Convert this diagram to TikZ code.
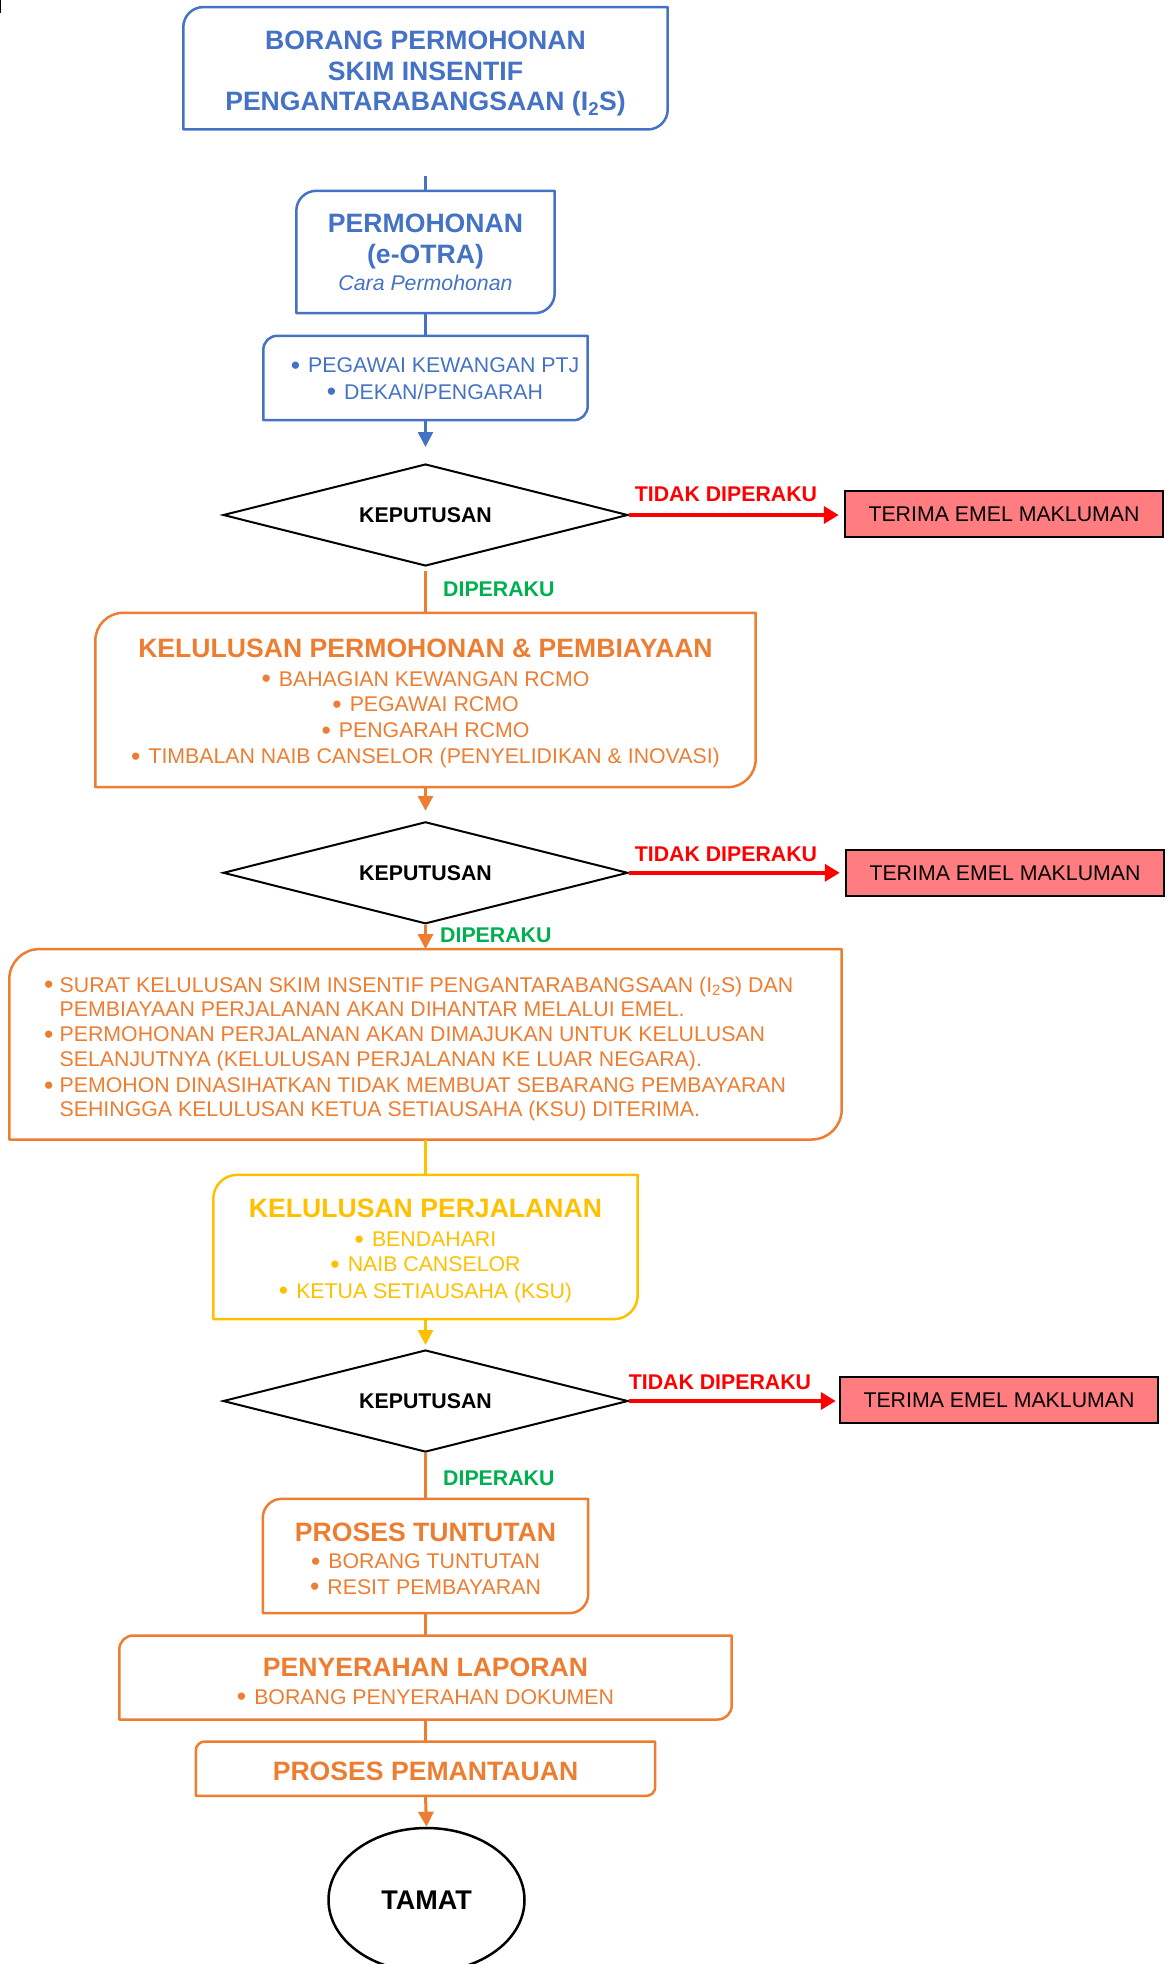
\documentclass[tikz,border=0pt]{standalone}
\usepackage{fontspec}
\usepackage{graphicx}
\setmainfont{Liberation Sans}
\usetikzlibrary{arrows.meta,shapes.geometric}
\definecolor{cblue}{HTML}{4472C4}
\definecolor{corange}{HTML}{ED7D31}
\definecolor{cyellow}{HTML}{FFC000}
\definecolor{cgreen}{HTML}{00B050}
\definecolor{cred}{HTML}{FF0000}
\definecolor{cpink}{HTML}{FF7C80}
\newcommand\bul{\raisebox{-1.9pt}{\scalebox{1.25}{\textbullet}}}
\newcommand\dboxline[3]{%
  \draw[#2, line width=2.5pt, line join=round] (#1.south west) -- ([yshift=-#3]#1.north west)
    arc[start angle=180, end angle=90, radius=#3] -- (#1.north east) -- ([yshift=#3]#1.south east)
    arc[start angle=0, end angle=-90, radius=#3] -- cycle;}
\begin{document}
\begin{tikzpicture}[x=1pt,y=1pt,
  boxn/.style={draw=none, inner sep=0pt},
  ttl/.style={anchor=base, inner sep=0pt, font=\fontsize{26.6}{30}\selectfont\bfseries},
  itm/.style={anchor=base, inner sep=0pt, font=\fontsize{21.3}{25}\selectfont},
  lbl/.style={anchor=base, inner sep=0pt, font=\fontsize{21.3}{25}\selectfont\bfseries},
  decbox/.style={diamond, draw=black, line width=2pt, aspect=4, inner sep=0pt,
    minimum width=405pt, minimum height=102pt, font=\fontsize{21.3}{25}\selectfont\bfseries},
  notebox/.style={draw=black, fill=cpink, line width=2.5pt, inner sep=0pt,
    minimum width=318pt, minimum height=46pt, font=\fontsize{21.3}{25}\selectfont},
  bline/.style={cblue, line width=2.5pt},
  oline/.style={corange, line width=3pt},
  yline/.style={cyellow, line width=3pt},
  rline/.style={cred, line width=4pt},
  arr/.style={-{Triangle[length=15pt,width=15pt]}},
  rarr/.style={-{Triangle[length=15pt,width=17pt]}},
]
\useasboundingbox (0,0) rectangle (1171,-1964);
\draw[line width=1.5pt] (0.7,0) -- (0.7,-13);

% ---- top box
\node[boxn, minimum width=484pt, minimum height=122pt] (top) at (425.5,-68.3) {};
\node[ttl, cblue] (topt1) at (425.5,-50) {BORANG PERMOHONAN};
\node[ttl, cblue] (topt2) at (425.5,-80.5) {SKIM INSENTIF};
\node[ttl, cblue] (topt3) at (425.5,-111) {PENGANTARABANGSAAN (I\textsubscript{2}S)};
\dboxline{top}{cblue}{20pt}

\coordinate (c0) at (425.5,-176);

% ---- permohonan
\node[boxn, minimum width=258pt, minimum height=122pt] (perm) at (425.5,-252) {};
\node[ttl, cblue] (perm1) at (425.5,-232.7) {PERMOHONAN};
\node[ttl, cblue] (perm2) at (425.5,-263) {(e-OTRA)};
\node[itm, cblue, font=\fontsize{21.3}{25}\selectfont\itshape] (perm3) at (425.5,-290) {Cara Permohonan};
\dboxline{perm}{cblue}{20pt}

% ---- ptj
\node[boxn, minimum width=324pt, minimum height=84pt] (ptj) at (425.5,-378) {};
\node[itm, cblue] (ptj1) at (435,-372.7) {\bul\hspace{8pt}PEGAWAI KEWANGAN PTJ};
\node[itm, cblue] (ptj2) at (435,-399) {\bul\hspace{8pt}DEKAN/PENGARAH};
\dboxline{ptj}{cblue}{14pt}

% ---- decision 1
\node[decbox] (d1) at (425.5,-515) {KEPUTUSAN};
\node[notebox] (t1) at (1004,-514) {TERIMA EMEL MAKLUMAN};
\node[lbl, cred] (n1) at (726,-501.7) {TIDAK DIPERAKU};
\node[lbl, cgreen, anchor=base west] (y1) at (443,-596) {DIPERAKU};

% ---- kelulusan permohonan
\node[boxn, minimum width=660pt, minimum height=174pt] (k1) at (425.5,-700) {};
\node[ttl, corange] (k1t) at (425.5,-657) {KELULUSAN PERMOHONAN \& PEMBIAYAAN};
\node[itm, corange] (k1a) at (425.5,-686) {\bul\hspace{8pt}BAHAGIAN KEWANGAN RCMO};
\node[itm, corange] (k1b) at (425.5,-711.7) {\bul\hspace{8pt}PEGAWAI RCMO};
\node[itm, corange] (k1c) at (425.5,-737.7) {\bul\hspace{8pt}PENGARAH RCMO};
\node[itm, corange] (k1d) at (425.5,-763.3) {\bul\hspace{8pt}TIMBALAN NAIB CANSELOR (PENYELIDIKAN \& INOVASI)};
\dboxline{k1}{corange}{28pt}

% ---- decision 2
\node[decbox] (d2) at (425.5,-872.8) {KEPUTUSAN};
\node[notebox] (t2) at (1005,-873) {TERIMA EMEL MAKLUMAN};
\node[lbl, cred] (n2) at (726,-861) {TIDAK DIPERAKU};
\node[lbl, cgreen, anchor=base west] (y2) at (440,-942) {DIPERAKU};

% ---- big note box
\node[boxn, minimum width=832pt, minimum height=190pt] (big) at (425.5,-1044.3) {};
\node[itm, corange, anchor=base west] (b1) at (44,-992) {\makebox[15.5pt][l]{\bul}SURAT KELULUSAN SKIM INSENTIF PENGANTARABANGSAAN (I\textsubscript{2}S) DAN};
\node[itm, corange, anchor=base west] (b2) at (44,-1016) {\hspace*{15.5pt}PEMBIAYAAN PERJALANAN AKAN DIHANTAR MELALUI EMEL.};
\node[itm, corange, anchor=base west] (b3) at (44,-1041.7) {\makebox[15.5pt][l]{\bul}PERMOHONAN PERJALANAN AKAN DIMAJUKAN UNTUK KELULUSAN};
\node[itm, corange, anchor=base west] (b4) at (44,-1066) {\hspace*{15.5pt}SELANJUTNYA (KELULUSAN PERJALANAN KE LUAR NEGARA).};
\node[itm, corange, anchor=base west] (b5) at (44,-1092.7) {\makebox[15.5pt][l]{\bul}PEMOHON DINASIHATKAN TIDAK MEMBUAT SEBARANG PEMBAYARAN};
\node[itm, corange, anchor=base west] (b6) at (44,-1116.7) {\hspace*{15.5pt}SEHINGGA KELULUSAN KETUA SETIAUSAHA (KSU) DITERIMA.};
\dboxline{big}{corange}{30pt}

% ---- kelulusan perjalanan
\node[boxn, minimum width=424pt, minimum height=144pt] (yel) at (425.5,-1247) {};
\node[ttl, cyellow] (yt) at (425.5,-1217.7) {KELULUSAN PERJALANAN};
\node[itm, cyellow] (ya) at (425.5,-1246.7) {\bul\hspace{8pt}BENDAHARI};
\node[itm, cyellow] (yb) at (425.5,-1271.7) {\bul\hspace{8pt}NAIB CANSELOR};
\node[itm, cyellow] (yc) at (425.5,-1298) {\bul\hspace{8pt}KETUA SETIAUSAHA (KSU)};
\dboxline{yel}{cyellow}{24pt}

% ---- decision 3
\node[decbox] (d3) at (425.5,-1401) {KEPUTUSAN};
\node[notebox] (t3) at (999,-1400) {TERIMA EMEL MAKLUMAN};
\node[lbl, cred] (n3) at (720,-1389) {TIDAK DIPERAKU};
\node[lbl, cgreen, anchor=base west] (y3) at (443,-1485.7) {DIPERAKU};

% ---- proses tuntutan
\node[boxn, minimum width=325pt, minimum height=114pt] (pt) at (425.5,-1556) {};
\node[ttl, corange] (ptt) at (425.5,-1541) {PROSES TUNTUTAN};
\node[itm, corange] (pta) at (425.5,-1568.3) {\bul\hspace{8pt}BORANG TUNTUTAN};
\node[itm, corange] (ptb) at (425.5,-1594) {\bul\hspace{8pt}RESIT PEMBAYARAN};
\dboxline{pt}{corange}{19pt}

% ---- penyerahan laporan
\node[boxn, minimum width=612pt, minimum height=83.6pt] (pl) at (425.5,-1677.5) {};
\node[ttl, corange] (plt) at (425.5,-1676) {PENYERAHAN LAPORAN};
\node[itm, corange] (pla) at (425.5,-1704) {\bul\hspace{8pt}BORANG PENYERAHAN DOKUMEN};
\dboxline{pl}{corange}{14pt}

% ---- proses pemantauan
\node[boxn, minimum width=459pt, minimum height=54pt] (pp) at (425.5,-1768.7) {};
\node[ttl, corange] (ppt) at (425.5,-1780) {PROSES PEMANTAUAN};
\dboxline{pp}{corange}{9pt}

% ---- tamat
\node[draw=black, ellipse, line width=2.5pt, minimum width=196pt, minimum height=144pt, inner sep=0pt,
  font=\fontsize{27}{30}\selectfont\bfseries] (tamat) at (426.5,-1900) {TAMAT};

% ---- connectors
\draw[bline] (c0) -- (perm.north);
\draw[bline] (perm.south) -- (ptj.north);
\draw[bline, arr, shorten >=16pt] (ptj.south) -- (d1.north);
\draw[oline, shorten <=4pt] (d1.south) -- (k1.north);
\draw[rline, rarr, shorten >=5pt] (d1.east) -- (d1.east -| t1.west);
\draw[oline, arr, shorten >=10pt] (k1.south) -- (d2.north);
\draw[oline, arr] (d2.south) -- (big.north);
\draw[rline, rarr, shorten >=5pt] (d2.east) -- (d2.east -| t2.west);
\draw[yline] (big.south) -- (yel.north);
\draw[yline, arr, shorten >=4pt] (yel.south) -- (d3.north);
\draw[rline, rarr, shorten >=3pt] (d3.east) -- (d3.east -| t3.west);
\draw[oline] (d3.south) -- (pt.north);
\draw[oline] (pt.south) -- (pl.north);
\draw[oline] (pl.south) -- (pp.north);
\draw[oline, arr] (pp.south) -- (tamat.north);
\end{tikzpicture}
\end{document}
